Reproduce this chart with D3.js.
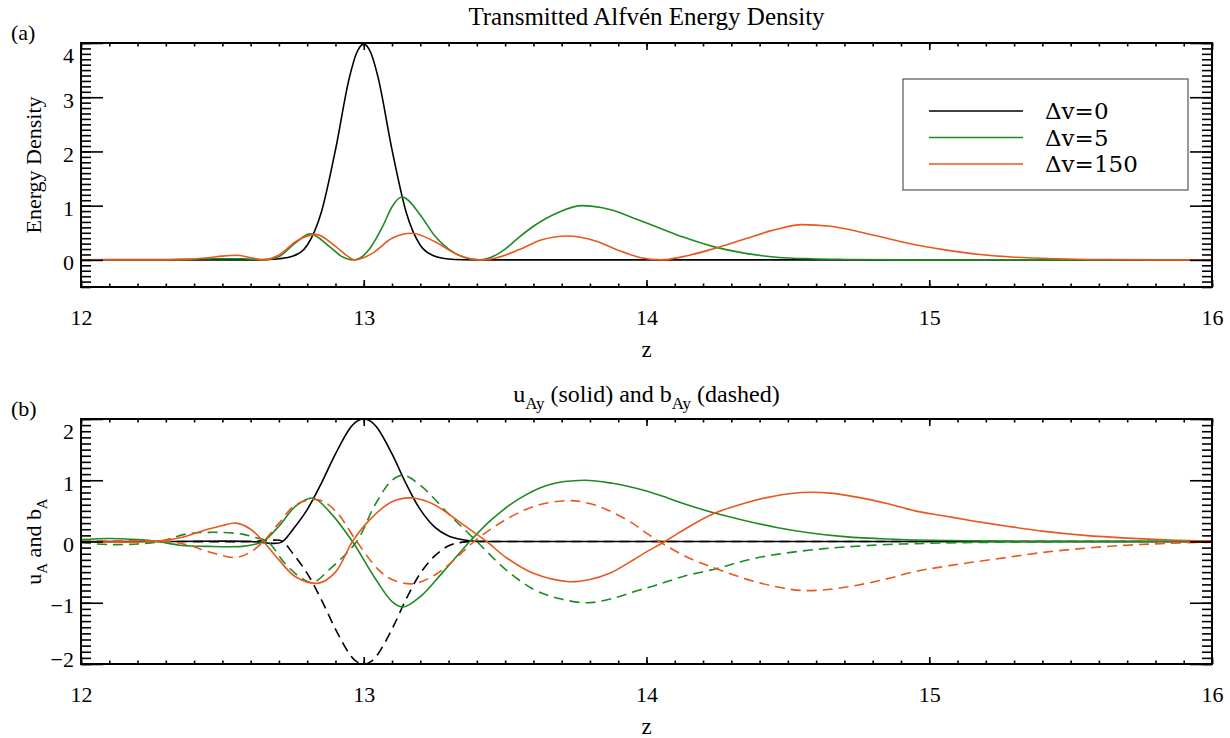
<!DOCTYPE html>
<html><head><meta charset="utf-8">
<script src="https://cdn.jsdelivr.net/npm/d3@7"></script>
<style>body{margin:0;background:#fff}svg{display:block}</style>
</head><body>
<svg id="c" width="1230" height="738"></svg>
<script>
// ---------- data ----------
const xTicks = [12, 13, 14, 15, 16];
const yTicksA = [0, 1, 2, 3, 4];
const yTicksB = [-2, -1, 0, 1, 2];
const legendLabels = ["\u0394v=0", "\u0394v=5", "\u0394v=150"];
const seriesColors = ["#000000", "#1f8a24", "#e8581e"];

// Panel (a): energy density, [z, value]
const energyBlack = [[12,0],[12.6,0],[12.65,0.005],[12.7,0.02],[12.75,0.07],[12.8,0.27],[12.85,0.88],[12.9,2.03],[12.95,3.38],[12.975,3.82],[13,3.98],[13.025,3.82],[13.05,3.38],[13.1,2.03],[13.15,0.88],[13.2,0.27],[13.25,0.07],[13.3,0.015],[13.35,0.003],[13.4,0],[16,0]];
const energyGreen = [[12,0],[12.1,0.004],[12.25,0.004],[12.35,0.01],[12.47,0.02],[12.57,0.02],[12.62,0.008],[12.65,0],[12.7,0.06],[12.76,0.32],[12.81,0.48],[12.88,0.24],[12.92,0.07],[12.965,0],[13.02,0.2],[13.04,0.36],[13.07,0.65],[13.1,0.98],[13.135,1.16],[13.2,0.83],[13.25,0.45],[13.3,0.2],[13.36,0.04],[13.41,0],[13.46,0.07],[13.5,0.2],[13.55,0.42],[13.6,0.62],[13.69,0.88],[13.77,1.0],[13.87,0.93],[13.97,0.74],[14.05,0.58],[14.13,0.42],[14.24,0.24],[14.35,0.12],[14.46,0.05],[14.58,0.02],[14.7,0.008],[14.9,0.001],[15.1,0],[16,0]];
const energyOrange = [[12,0],[12.3,0.001],[12.38,0.01],[12.45,0.04],[12.5,0.07],[12.55,0.085],[12.6,0.04],[12.645,0],[12.7,0.09],[12.76,0.34],[12.83,0.47],[12.9,0.25],[12.94,0.08],[12.97,0],[13.03,0.12],[13.1,0.4],[13.17,0.49],[13.25,0.34],[13.33,0.1],[13.39,0.01],[13.42,0],[13.47,0.04],[13.55,0.19],[13.63,0.37],[13.72,0.44],[13.82,0.35],[13.9,0.18],[13.98,0.04],[14.05,0],[14.13,0.06],[14.24,0.21],[14.35,0.39],[14.45,0.55],[14.55,0.65],[14.65,0.62],[14.75,0.52],[14.85,0.4],[14.95,0.28],[15.05,0.19],[15.18,0.1],[15.3,0.05],[15.45,0.02],[15.6,0.006],[15.8,0.001],[16,0]];

// Panel (b): u_Ay (solid) and b_Ay (dashed), [z, value]
const uBlack = [[12,0],[12.3,0],[12.6,0],[12.67,-0.03],[12.71,-0.01],[12.75,0.2],[12.8,0.52],[12.85,0.95],[12.9,1.43],[12.95,1.84],[12.975,1.96],[13,2.0],[13.025,1.96],[13.05,1.84],[13.1,1.43],[13.15,0.94],[13.2,0.52],[13.25,0.24],[13.3,0.09],[13.35,0.03],[13.4,0.005],[13.5,0],[14,0],[15,0],[16,0]];
const bBlack = [[12,0],[12.3,0],[12.6,0],[12.67,0.02],[12.71,0.01],[12.75,-0.2],[12.8,-0.52],[12.85,-0.95],[12.9,-1.43],[12.95,-1.84],[12.975,-1.96],[13,-2.0],[13.025,-1.96],[13.05,-1.84],[13.1,-1.43],[13.15,-0.94],[13.2,-0.52],[13.25,-0.24],[13.3,-0.07],[13.35,-0.01],[13.4,0],[13.5,0],[14,0],[15,0],[16,0]];
const uGreen = [[12,0.03],[12.1,0.05],[12.2,0.03],[12.27,0],[12.35,-0.06],[12.45,-0.08],[12.57,-0.08],[12.62,-0.04],[12.645,0],[12.7,0.25],[12.76,0.58],[12.82,0.71],[12.88,0.48],[12.96,0],[13.04,-0.6],[13.1,-0.98],[13.14,-1.07],[13.2,-0.9],[13.28,-0.5],[13.375,0],[13.45,0.35],[13.55,0.7],[13.65,0.92],[13.78,1.0],[13.88,0.95],[13.97,0.86],[14.05,0.75],[14.13,0.62],[14.24,0.465],[14.35,0.34],[14.46,0.23],[14.58,0.14],[14.7,0.08],[14.85,0.04],[15,0.02],[15.2,0.008],[15.4,0.002],[16,0]];
const bGreen = [[12,-0.02],[12.1,-0.05],[12.2,-0.04],[12.28,0],[12.37,0.12],[12.47,0.15],[12.57,0.12],[12.62,0.06],[12.66,0],[12.72,-0.35],[12.78,-0.6],[12.82,-0.67],[12.88,-0.45],[12.975,0],[13.04,0.6],[13.1,1.0],[13.14,1.08],[13.2,0.92],[13.3,0.45],[13.4,0],[13.5,-0.45],[13.6,-0.78],[13.69,-0.93],[13.79,-1.0],[13.88,-0.93],[13.97,-0.8],[14.05,-0.69],[14.13,-0.57],[14.25,-0.44],[14.35,-0.31],[14.46,-0.21],[14.58,-0.14],[14.7,-0.09],[14.85,-0.05],[14.95,-0.035],[15.1,-0.02],[15.3,-0.01],[15.5,-0.004],[16,0]];
const uOrange = [[12,0],[12.25,0],[12.35,0.06],[12.42,0.16],[12.5,0.26],[12.55,0.3],[12.6,0.2],[12.645,0],[12.7,-0.3],[12.76,-0.58],[12.84,-0.68],[12.9,-0.5],[12.96,0],[13.02,0.35],[13.1,0.65],[13.175,0.71],[13.25,0.6],[13.35,0.28],[13.435,0],[13.5,-0.25],[13.6,-0.52],[13.726,-0.656],[13.8,-0.62],[13.87,-0.52],[13.95,-0.31],[14.0,-0.17],[14.065,0],[14.15,0.24],[14.24,0.46],[14.35,0.63],[14.45,0.74],[14.55,0.8],[14.65,0.79],[14.75,0.72],[14.85,0.62],[14.95,0.5],[15.05,0.42],[15.15,0.34],[15.275,0.25],[15.4,0.17],[15.55,0.1],[15.7,0.055],[15.85,0.025],[16,0.01]];
const bOrange = [[12,0],[12.3,0],[12.38,-0.06],[12.46,-0.18],[12.55,-0.26],[12.6,-0.17],[12.645,0],[12.7,0.3],[12.76,0.6],[12.84,0.68],[12.9,0.5],[12.975,0],[13.05,-0.45],[13.1,-0.62],[13.175,-0.69],[13.25,-0.55],[13.32,-0.3],[13.39,0],[13.5,0.35],[13.6,0.57],[13.718,0.667],[13.79,0.63],[13.86,0.52],[13.95,0.3],[13.99,0.17],[14.045,0],[14.15,-0.27],[14.25,-0.45],[14.35,-0.61],[14.45,-0.73],[14.55,-0.8],[14.65,-0.78],[14.75,-0.71],[14.85,-0.61],[14.95,-0.49],[15.05,-0.41],[15.15,-0.34],[15.275,-0.26],[15.4,-0.18],[15.55,-0.11],[15.7,-0.06],[15.85,-0.03],[16,-0.01]];

// ---------- drawing ----------
const svg = d3.select("#c");
const serif = '"Liberation Serif","Times New Roman",serif';
const L = 81, R = 1212;
const x = d3.scaleLinear().domain([12, 16]).range([L, R]);
const xMinor = d3.range(120, 161).map(d => d / 10);

function panel(o) {
  const y = d3.scaleLinear().domain(o.yDomain).range([o.bottom, o.top]);
  const g = svg.append("g");
  const clipId = "clip" + o.id;
  svg.append("clipPath").attr("id", clipId).append("rect")
    .attr("x", L).attr("y", o.top - 1).attr("width", R - L).attr("height", o.bottom - o.top + 2);

  // curves
  const line = d3.line().x(d => x(d[0])).y(d => y(d[1])).curve(o.curve);
  const cg = g.append("g").attr("clip-path", `url(#${clipId})`);
  o.series.forEach(s => {
    cg.append("path").datum(s.data).attr("d", line)
      .attr("fill", "none").attr("stroke", s.color).attr("stroke-width", 1.6)
      .attr("stroke-dasharray", s.dash ? "10,6" : null);
  });

  const yMinor = d3.range(Math.round(o.yDomain[0] * 10), Math.round(o.yDomain[1] * 10) + 1).map(d => d / 10);
  const style = sel => {
    sel.select(".domain").remove();
    sel.selectAll("line").attr("stroke", "#000").attr("stroke-width", 1.6);
  };
  // x ticks bottom (pointing up) and top (pointing down)
  g.append("g").attr("transform", `translate(0,${o.bottom})`)
    .call(d3.axisTop(x).tickValues(xMinor).tickSize(3.5).tickFormat("")).call(style);
  g.append("g").attr("transform", `translate(0,${o.bottom})`)
    .call(d3.axisTop(x).tickValues(xTicks).tickSize(7).tickFormat("")).call(style);
  g.append("g").attr("transform", `translate(0,${o.top})`)
    .call(d3.axisBottom(x).tickValues(xMinor).tickSize(3.5).tickFormat("")).call(style);
  g.append("g").attr("transform", `translate(0,${o.top})`)
    .call(d3.axisBottom(x).tickValues(xTicks).tickSize(7).tickFormat("")).call(style);
  // y ticks left (pointing right) and right (pointing left)
  g.append("g").attr("transform", `translate(${L},0)`)
    .call(d3.axisRight(y).tickValues(yMinor).tickSize(10).tickFormat("")).call(style);
  g.append("g").attr("transform", `translate(${L},0)`)
    .call(d3.axisRight(y).tickValues(o.yTicks).tickSize(22).tickFormat("")).call(style);
  g.append("g").attr("transform", `translate(${R},0)`)
    .call(d3.axisLeft(y).tickValues(yMinor).tickSize(10).tickFormat("")).call(style);
  g.append("g").attr("transform", `translate(${R},0)`)
    .call(d3.axisLeft(y).tickValues(o.yTicks).tickSize(22).tickFormat("")).call(style);

  // frame
  g.append("rect").attr("x", L).attr("y", o.top).attr("width", R - L).attr("height", o.bottom - o.top)
    .attr("fill", "none").attr("stroke", "#000").attr("stroke-width", 2);

  // x tick labels
  const xl = g.append("g").attr("transform", `translate(0,${o.bottom})`)
    .call(d3.axisBottom(x).tickValues(xTicks).tickSize(0).tickPadding(22).tickFormat(d3.format("d")));
  xl.select(".domain").remove();
  xl.selectAll("text").attr("font-family", serif).attr("font-size", 22).attr("fill", "#000");

  // y tick labels
  const yl = g.append("g").attr("transform", `translate(${L},0)`)
    .call(d3.axisLeft(y).tickValues(o.yTicks).tickSize(0).tickPadding(7).tickFormat(d3.format("d")));
  yl.select(".domain").remove();
  yl.selectAll("text").attr("font-family", serif).attr("font-size", 22).attr("fill", "#000")
    .attr("transform", d => {
      let dy = 3;
      if (d === o.yDomain[1]) dy += 9;
      if (d === o.yDomain[0]) dy -= 8;
      return `translate(0,${dy})`;
    });

  // x label
  svg.append("text").attr("x", (L + R) / 2).attr("y", o.bottom + 70).attr("text-anchor", "middle")
    .attr("font-family", serif).attr("font-size", 23).text("z");
  // panel letter
  svg.append("text").attr("x", 11).attr("y", o.top - 3).attr("font-family", serif).attr("font-size", 22).text(o.letter);
  return { y, g };
}

// Panel (a)
panel({
  id: "a", top: 43, bottom: 287, yDomain: [-0.5, 4], yTicks: yTicksA, letter: "(a)",
  curve: d3.curveMonotoneX,
  series: [
    { data: energyBlack, color: seriesColors[0] },
    { data: energyGreen, color: seriesColors[1] },
    { data: energyOrange, color: seriesColors[2] }
  ]
});
svg.append("text").attr("x", (L + R) / 2).attr("y", 25).attr("text-anchor", "middle")
  .attr("font-family", serif).attr("font-size", 25).text("Transmitted Alfv\u00e9n Energy Density");
svg.append("text").attr("transform", `translate(41,${(43 + 287) / 2}) rotate(-90)`).attr("text-anchor", "middle")
  .attr("font-family", serif).attr("font-size", 22).text("Energy Density");

// legend
const lg = svg.append("g");
lg.append("rect").attr("x", 903).attr("y", 79).attr("width", 285).attr("height", 111)
  .attr("fill", "#fff").attr("stroke", "#555").attr("stroke-width", 1.2);
legendLabels.forEach((t, i) => {
  const yy = 111 + i * 26.5;
  lg.append("line").attr("x1", 929).attr("x2", 1023).attr("y1", yy).attr("y2", yy)
    .attr("stroke", seriesColors[i]).attr("stroke-width", 1.6);
  lg.append("text").attr("x", 1045).attr("y", yy + 8).attr("font-family", '"DejaVu Serif",serif')
    .attr("font-size", 23).text(t);
});

// Panel (b)
panel({
  id: "b", top: 419, bottom: 664, yDomain: [-2, 2], yTicks: yTicksB, letter: "(b)",
  curve: d3.curveCatmullRom.alpha(0.5),
  series: [
    { data: uBlack, color: seriesColors[0] },
    { data: bBlack, color: seriesColors[0], dash: true },
    { data: uGreen, color: seriesColors[1] },
    { data: bGreen, color: seriesColors[1], dash: true },
    { data: uOrange, color: seriesColors[2] },
    { data: bOrange, color: seriesColors[2], dash: true }
  ]
});
const tb = svg.append("text").attr("x", (L + R) / 2).attr("y", 402).attr("text-anchor", "middle")
  .attr("font-family", serif).attr("font-size", 24);
tb.append("tspan").text("u");
tb.append("tspan").attr("font-size", 17).attr("dy", 7).text("Ay");
tb.append("tspan").attr("dy", -7).text(" (solid) and b");
tb.append("tspan").attr("font-size", 17).attr("dy", 7).text("Ay");
tb.append("tspan").attr("dy", -7).text(" (dashed)");

const yb = svg.append("text").attr("transform", `translate(41,${(419 + 664) / 2}) rotate(-90)`).attr("text-anchor", "middle")
  .attr("font-family", serif).attr("font-size", 22);
yb.append("tspan").text("u");
yb.append("tspan").attr("font-size", 15).attr("dy", 6).text("A");
yb.append("tspan").attr("dy", -6).text(" and b");
yb.append("tspan").attr("font-size", 15).attr("dy", 6).text("A");
</script>
</body></html>
